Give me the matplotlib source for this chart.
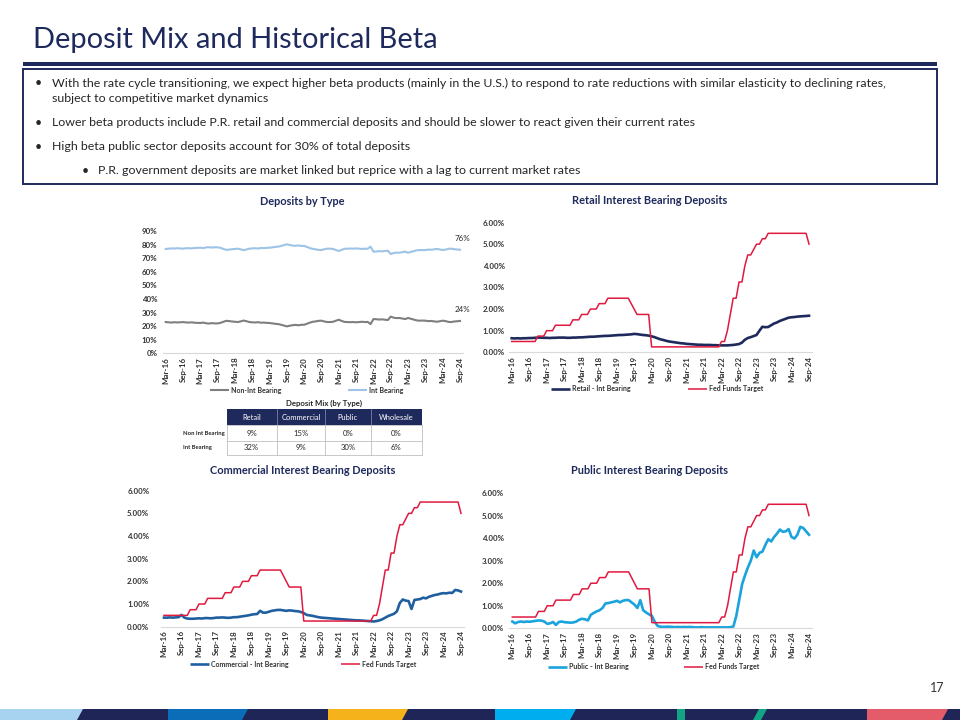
import matplotlib
matplotlib.use('Agg')
import matplotlib.pyplot as plt
from matplotlib.patches import Rectangle, Polygon
from matplotlib.ticker import FuncFormatter

plt.rcParams['font.family'] = ['Lato', 'DejaVu Sans']

NAVY = '#1F2A5C'
TXT = '#262626'
AXTXT = '#333333'

# ---- data (monthly, Mar-16 .. Sep-24) ----
tick_labels = ['Mar-16', 'Sep-16', 'Mar-17', 'Sep-17', 'Mar-18', 'Sep-18', 'Mar-19', 'Sep-19', 'Mar-20',
               'Sep-20', 'Mar-21', 'Sep-21', 'Mar-22', 'Sep-22', 'Mar-23', 'Sep-23', 'Mar-24', 'Sep-24']

int_bearing = [76.8, 77.0, 77.2, 77.1, 77.3, 77.2, 77.0, 77.3, 77.4, 77.2,
               77.5, 77.6, 77.7, 77.4, 77.9, 78.1, 77.8, 78.0, 78.0, 77.6, 76.8, 76.1,
               76.3, 76.6, 76.8, 77.0, 76.5, 75.9, 76.4, 77.0, 77.2, 77.3, 77.1, 77.5,
               77.4, 77.6, 77.7, 78.0, 78.3, 78.5, 79.0, 79.6, 80.2, 79.7, 79.3, 79.1,
               79.4, 79.0, 79.0, 78.2, 77.4, 76.8, 76.5, 76.1, 76.0, 76.6, 77.0, 77.0,
               76.8, 76.0, 75.3, 76.2, 76.9, 77.0, 77.1, 77.0, 77.2, 77.0, 76.8, 77.0,
               76.9, 78.5, 74.8, 74.9, 75.2, 75.0, 75.3, 75.5, 73.0, 73.8, 74.1, 74.0,
               74.4, 74.8, 74.0, 74.6, 75.2, 75.8, 76.0, 75.9, 76.0, 76.3, 76.2, 76.5,
               76.8, 76.4, 76.0, 76.3, 76.9, 77.0, 76.6, 76.4, 76.2]

non_int_bearing = [23.0, 22.8, 22.6, 22.9, 22.7, 22.8, 23.0, 22.7, 22.6, 22.8,
                   22.5, 22.4, 22.3, 22.6, 22.1, 21.9, 22.2, 22.0, 22.0, 22.4, 23.2, 23.9,
                   23.7, 23.4, 23.2, 23.0, 23.5, 24.1, 23.6, 23.0, 22.8, 22.7, 22.9, 22.5,
                   22.6, 22.4, 22.3, 22.0, 21.7, 21.5, 21.0, 20.4, 19.8, 20.3, 20.7, 20.9,
                   20.6, 21.0, 21.0, 21.8, 22.6, 23.2, 23.5, 23.9, 24.0, 23.4, 23.0, 23.0,
                   23.2, 24.0, 24.7, 23.8, 23.1, 23.0, 22.9, 23.0, 22.8, 23.0, 23.2, 23.0,
                   23.1, 21.5, 25.2, 25.1, 24.8, 25.0, 24.7, 24.5, 27.0, 26.2, 25.9, 26.0,
                   25.6, 25.2, 26.0, 25.4, 24.8, 24.2, 24.0, 24.1, 24.0, 23.7, 23.8, 23.5,
                   23.2, 23.6, 24.0, 23.7, 23.1, 23.0, 23.4, 23.6, 23.8]

fed_funds = [0.50, 0.50, 0.50, 0.50, 0.50, 0.50, 0.50, 0.50, 0.50, 0.75,
             0.75, 0.75, 1.00, 1.00, 1.00, 1.25, 1.25, 1.25, 1.25, 1.25, 1.25, 1.50,
             1.50, 1.50, 1.75, 1.75, 1.75, 2.00, 2.00, 2.00, 2.25, 2.25, 2.25, 2.50,
             2.50, 2.50, 2.50, 2.50, 2.50, 2.50, 2.50, 2.25, 2.00, 1.75, 1.75, 1.75,
             1.75, 1.75, 0.25, 0.25, 0.25, 0.25, 0.25, 0.25, 0.25, 0.25, 0.25, 0.25,
             0.25, 0.25, 0.25, 0.25, 0.25, 0.25, 0.25, 0.25, 0.25, 0.25, 0.25, 0.25,
             0.25, 0.25, 0.50, 0.50, 1.00, 1.75, 2.50, 2.50, 3.25, 3.25, 4.00, 4.50,
             4.50, 4.75, 5.00, 5.00, 5.25, 5.25, 5.50, 5.50, 5.50, 5.50, 5.50, 5.50,
             5.50, 5.50, 5.50, 5.50, 5.50, 5.50, 5.50, 5.50, 5.00]

retail_ib = [0.65, 0.64, 0.65, 0.64, 0.65, 0.65, 0.66, 0.66, 0.67, 0.68,
             0.68, 0.67, 0.67, 0.66, 0.67, 0.67, 0.68, 0.68, 0.68, 0.67, 0.67, 0.68,
             0.68, 0.69, 0.69, 0.70, 0.71, 0.72, 0.72, 0.73, 0.74, 0.75, 0.76, 0.76,
             0.77, 0.78, 0.79, 0.80, 0.80, 0.81, 0.82, 0.83, 0.85, 0.84, 0.82, 0.80,
             0.79, 0.77, 0.74, 0.70, 0.65, 0.60, 0.57, 0.53, 0.50, 0.48, 0.46, 0.44,
             0.42, 0.41, 0.39, 0.38, 0.37, 0.36, 0.35, 0.35, 0.34, 0.34, 0.34, 0.33,
             0.33, 0.32, 0.32, 0.32, 0.32, 0.33, 0.34, 0.36, 0.38, 0.45, 0.58, 0.66,
             0.70, 0.75, 0.80, 1.00, 1.18, 1.16, 1.17, 1.25, 1.33, 1.38, 1.45, 1.50,
             1.55, 1.60, 1.62, 1.63, 1.65, 1.66, 1.67, 1.68, 1.69]

commercial_ib = [0.40, 0.40, 0.41, 0.40, 0.41, 0.42, 0.52, 0.40, 0.36, 0.35,
                 0.35, 0.36, 0.37, 0.36, 0.38, 0.38, 0.37, 0.38, 0.40, 0.40, 0.41, 0.40,
                 0.39, 0.40, 0.42, 0.42, 0.44, 0.46, 0.48, 0.50, 0.53, 0.55, 0.56, 0.70,
                 0.62, 0.62, 0.66, 0.70, 0.72, 0.74, 0.74, 0.72, 0.70, 0.72, 0.71, 0.69,
                 0.68, 0.65, 0.60, 0.52, 0.50, 0.48, 0.45, 0.42, 0.40, 0.39, 0.38, 0.37,
                 0.36, 0.35, 0.34, 0.33, 0.32, 0.31, 0.30, 0.29, 0.28, 0.28, 0.27, 0.26,
                 0.25, 0.24, 0.23, 0.25, 0.28, 0.33, 0.40, 0.47, 0.52, 0.57, 0.68, 1.05,
                 1.20, 1.15, 1.13, 0.78, 1.18, 1.20, 1.22, 1.28, 1.25, 1.32, 1.36, 1.40,
                 1.42, 1.46, 1.48, 1.47, 1.50, 1.49, 1.62, 1.60, 1.55]

public_ib = [0.30, 0.22, 0.28, 0.30, 0.28, 0.30, 0.29, 0.31, 0.33, 0.35,
             0.34, 0.30, 0.20, 0.22, 0.28, 0.15, 0.28, 0.30, 0.27, 0.26, 0.25, 0.26,
             0.30, 0.38, 0.42, 0.40, 0.35, 0.60, 0.68, 0.75, 0.80, 0.90, 1.10, 1.12,
             1.15, 1.18, 1.22, 1.15, 1.22, 1.25, 1.25, 1.15, 1.05, 0.90, 1.25, 0.80,
             0.70, 0.62, 0.55, 0.28, 0.10, 0.07, 0.06, 0.07, 0.07, 0.06, 0.05, 0.06,
             0.05, 0.06, 0.05, 0.06, 0.05, 0.04, 0.04, 0.05, 0.04, 0.04, 0.04, 0.04,
             0.04, 0.04, 0.04, 0.04, 0.04, 0.05, 0.08, 0.55, 1.25, 1.95, 2.35, 2.70,
             3.00, 3.45, 3.15, 3.35, 3.40, 3.70, 3.95, 3.85, 4.05, 4.20, 4.38, 4.28,
             4.30, 4.40, 4.05, 3.98, 4.15, 4.50, 4.45, 4.30, 4.15]

mix_cols = ['Retail', 'Commercial', 'Public', 'Wholesale']
mix_rows = ['Non Int Bearing', 'Int Bearing']
mix_values = [[9, 15, 0, 0],
              [32, 9, 30, 6]]

bullets = [
    (0, ['With the rate cycle transitioning, we expect higher beta products (mainly in the U.S.) to respond to rate reductions with similar elasticity to declining rates,',
         'subject to competitive market dynamics']),
    (0, ['Lower beta products include P.R. retail and commercial deposits and should be slower to react given their current rates']),
    (0, ['High beta public sector deposits account for 30% of total deposits']),
    (1, ['P.R. government deposits are market linked but reprice with a lag to current market rates']),
]

footer = [('#A7D3F0', 0, 80), ('#0B6DB7', 168, 245), ('#F6B21B', 328, 405),
          ('#00ADEF', 495, 573), ('#E45B6A', 867, 945)]

W, H = 960, 720
fig = plt.figure(figsize=(9.6, 7.2), dpi=100)

# background axes in pixel coords for the slide decoration
bg = fig.add_axes([0, 0, 1, 1])
bg.set_xlim(0, W)
bg.set_ylim(H, 0)
bg.axis('off')

bg.text(33, 48, 'Deposit Mix and Historical Beta', fontsize=20.9, color=NAVY, va='baseline')
bg.add_patch(Rectangle((22.7, 62), 914.3, 3.5, color=NAVY, lw=0))
bg.add_patch(Rectangle((22.7, 69.3), 914.3, 114.7, fill=False, ec=NAVY, lw=1.4))

y = 83
for i, (level, lines) in enumerate(bullets):
    bx = 35 if level == 0 else 82
    bg.text(bx, y, '\u2022', fontsize=9, color=TXT, va='center')
    for ln in lines:
        bg.text(bx + 16.5, y, ln, fontsize=8.95, color=TXT, va='center')
        y += 16
    y += 8

# footer band
bg.add_patch(Rectangle((0, 709), W, 11, color='#1F2557', lw=0))
for col, xl, xr in footer:
    bg.add_patch(Polygon([(xl, 720), (xr - 3, 720), (xr + 3, 709), (xl, 709)], closed=True, color=col, lw=0))
bg.add_patch(Rectangle((677, 709), 8, 11, color='#12A585', lw=0))
bg.add_patch(Polygon([(753, 720), (761, 720), (767, 709), (759, 709)], closed=True, color='#12A585', lw=0))
bg.text(937, 688, '17', ha='center', va='center', fontsize=9, color=AXTXT)

# deposit mix table
bg.text(324, 403, 'Deposit Mix (by Type)', ha='center', va='center', fontsize=5.6, fontweight='bold', color=TXT)
col_edges = [226.7, 276.7, 325, 370.7, 421.7]
row_edges = [409, 425, 441, 455]
bg.add_patch(Rectangle((col_edges[0], row_edges[0]), col_edges[-1] - col_edges[0], row_edges[1] - row_edges[0],
                       color=NAVY, lw=0))
for j, name in enumerate(mix_cols):
    cx = (col_edges[j] + col_edges[j + 1]) / 2
    bg.text(cx, (row_edges[0] + row_edges[1]) / 2, name, ha='center', va='center', fontsize=5.4, color='white')
    if j > 0:
        bg.plot([col_edges[j]] * 2, [row_edges[0], row_edges[1]], color='#8C93B5', lw=0.5)
for i, name in enumerate(mix_rows):
    cy = (row_edges[i + 1] + row_edges[i + 2]) / 2
    bg.text(183, cy, name, ha='left', va='center', fontsize=4.2, fontweight='bold', color=TXT)
    for j, v in enumerate(mix_values[i]):
        cx = (col_edges[j] + col_edges[j + 1]) / 2
        bg.text(cx, cy, f'{v}%', ha='center', va='center', fontsize=5.6, color=TXT)
for yy in row_edges[1:]:
    bg.plot([col_edges[0], col_edges[-1]], [yy, yy], color='#BFBFBF', lw=0.6)
for xx in col_edges:
    bg.plot([xx, xx], [row_edges[1], row_edges[-1]], color='#BFBFBF', lw=0.6)


def chart_axes(x0, x1, ybot, ytop, ymax, ystep, fmt, ypad, title, title_xy):
    step = (x1 - x0) / 102
    left, right = x0 - step, x1 + step
    ax = fig.add_axes([left / W, 1 - ybot / H, (right - left) / W, (ybot - ytop) / H])
    ax.patch.set_alpha(0)
    ax.set_xlim(-1, 103)
    ax.set_ylim(0, ymax)
    ax.set_xticks(range(0, 103, 6))
    ax.set_xticklabels(tick_labels, rotation=90)
    ticks = [k * ystep for k in range(int(round(ymax / ystep)) + 1)]
    ax.set_yticks(ticks)
    ax.yaxis.set_major_formatter(FuncFormatter(lambda v, _: fmt.format(v)))
    ax.tick_params(axis='both', length=0, labelsize=5.7, labelcolor=AXTXT)
    ax.tick_params(axis='x', pad=2.5)
    ax.tick_params(axis='y', pad=ypad)
    for lab in ax.get_xticklabels() + ax.get_yticklabels():
        lab.set_fontweight('bold')
    for s in ['top', 'right', 'left']:
        ax.spines[s].set_visible(False)
    ax.spines['bottom'].set_color('#D9D9D9')
    ax.spines['bottom'].set_linewidth(0.8)
    bg.text(title_xy[0], title_xy[1], title, ha='center', va='center', fontsize=7.9,
            fontweight='bold', color=NAVY)
    return ax


def legend_item(x, y, text, color, lw):
    bg.plot([x, x + 19], [y, y], color=color, lw=lw, solid_capstyle='butt')
    bg.text(x + 21, y, text, ha='left', va='center', fontsize=5, fontweight='bold', color=AXTXT)


months = range(len(fed_funds))

# Deposits by Type
ax1 = chart_axes(165.7, 460, 353.3, 231, 90, 10, '{:.0f}%', 4, 'Deposits by Type', (302.5, 201.7))
ax1.plot(months, non_int_bearing, color='#7F7F7F', lw=1.5)
ax1.plot(months, int_bearing, color='#9DC3E6', lw=1.5)
for series in (int_bearing, non_int_bearing):
    ax1.annotate(f'{round(series[-1])}%', (months[-1], series[-1]), xytext=(1.5, 8),
                 textcoords='offset points', ha='center', va='center', fontsize=5.8, color=TXT)
legend_item(210, 390, 'Non-Int Bearing', '#7F7F7F', 1.5)
legend_item(348, 390, 'Int Bearing', '#9DC3E6', 1.5)

# Retail
ax2 = chart_axes(511.7, 809, 352.3, 222.5, 6, 1, '{:.2f}%', 3, 'Retail Interest Bearing Deposits', (650, 200))
ax2.plot(months, retail_ib, color=NAVY, lw=1.9)
ax2.plot(months, fed_funds, color='#E0193F', lw=1.1)
legend_item(551, 389, 'Retail - Int Bearing', NAVY, 1.9)
legend_item(688, 389, 'Fed Funds Target', '#E0193F', 1.1)

# Commercial
ax3 = chart_axes(164, 461, 626.7, 490.7, 6, 1, '{:.2f}%', 8.5, 'Commercial Interest Bearing Deposits', (303, 470.7))
ax3.plot(months, commercial_ib, color='#1F5FA0', lw=1.9)
ax3.plot(months, fed_funds, color='#E0193F', lw=1.1)
legend_item(190, 664.3, 'Commercial - Int Bearing', '#1F5FA0', 1.9)
legend_item(341, 664.3, 'Fed Funds Target', '#E0193F', 1.1)

# Public
ax4 = chart_axes(512.3, 809, 628.3, 493, 6, 1, '{:.2f}%', 4, 'Public Interest Bearing Deposits', (649.5, 470.7))
ax4.plot(months, public_ib, color='#1AA3DC', lw=1.9)
ax4.plot(months, fed_funds, color='#E0193F', lw=1.1)
legend_item(548, 666.7, 'Public - Int Bearing', '#1AA3DC', 1.9)
legend_item(684, 666.7, 'Fed Funds Target', '#E0193F', 1.1)

fig.savefig('out.png', dpi=100)
